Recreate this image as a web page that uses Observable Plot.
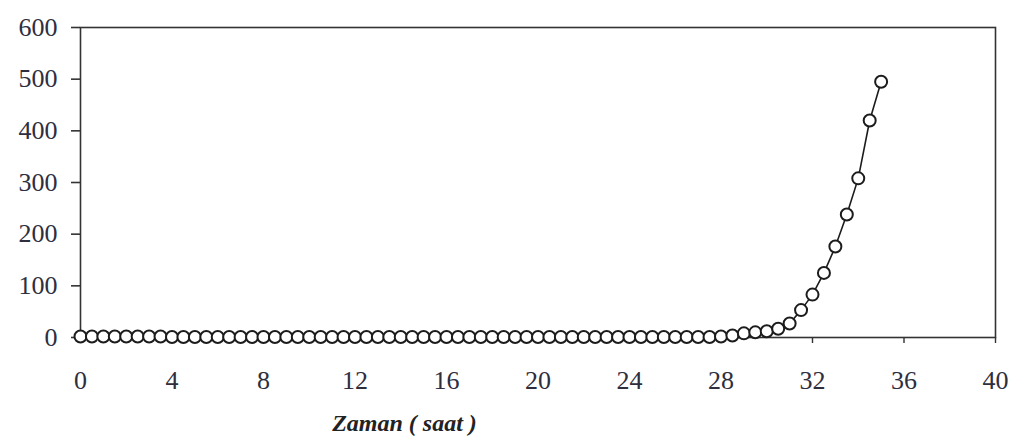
<!DOCTYPE html>
<html>
<head>
<meta charset="utf-8">
<script src="https://cdn.jsdelivr.net/npm/d3@7"></script>
<script src="https://cdn.jsdelivr.net/npm/@observablehq/plot@0.6"></script>
<style>
  html, body { margin: 0; padding: 0; background: #fff; }
  #chart svg { display: block; }
</style>
</head>
<body>
<div id="chart"></div>
<script>
const hours = [0,0.5,1,1.5,2,2.5,3,3.5,4,4.5,5,5.5,6,6.5,7,7.5,8,8.5,9,9.5,
  10,10.5,11,11.5,12,12.5,13,13.5,14,14.5,15,15.5,16,16.5,17,17.5,18,18.5,19,19.5,
  20,20.5,21,21.5,22,22.5,23,23.5,24,24.5,25,25.5,26,26.5,27,27.5,28,28.5,
  29,29.5,30,30.5,31,31.5,32,32.5,33,33.5,34,34.5,35];
const values = [2,2,2,2,2,2,2,2,1,1,1,1,1,1,1,1,1,1,1,1,
  1,1,1,1,1,1,1,1,1,1,1,1,1,1,1,1,1,1,1,1,
  1,1,1,1,1,1,1,1,1,1,1,1,1,1,1,1,2,4,
  8,10,12,17,27,53,83,125,176,238,308,420,495];
const xTicks = [0,4,8,12,16,20,24,28,32,36,40];
const yTicks = [0,100,200,300,400,500,600];
const xTitle = "Zaman ( saat )";

const data = hours.map((h, i) => ({h, v: values[i]}));
const ink = "#1c1c1c";
const labelInk = "#2e2e3e";

const chart = Plot.plot({
  width: 1016,
  height: 442,
  marginLeft: 80,
  marginRight: 21,
  marginTop: 27,
  marginBottom: 105,
  style: {background: "#fff", fontFamily: "'Liberation Serif', 'DejaVu Serif', serif", color: labelInk},
  x: {domain: [0, 40]},
  y: {domain: [0, 600]},
  marks: [
    Plot.frame({stroke: "#333", strokeWidth: 1.6}),
    Plot.axisY({ticks: yTicks, tickSize: 9, tickPadding: 14, fontSize: 26, label: null, stroke: "#333", strokeWidth: 1.6}),
    Plot.axisX({ticks: xTicks, tickSize: 6, tickPadding: 27, fontSize: 26, label: null, stroke: "#333", strokeWidth: 1.4}),
    Plot.line(data, {x: "h", y: "v", stroke: ink, strokeWidth: 1.6}),
    Plot.dot(data, {x: "h", y: "v", r: 6, fill: "#fff", stroke: ink, strokeWidth: 2}),
    Plot.text([xTitle], {frameAnchor: "bottom-left", dx: 324, dy: 93, text: d => d, fontSize: 24, fontWeight: "bold", fontStyle: "italic", fill: "#222", textAnchor: "middle"})
  ]
});
document.getElementById("chart").append(chart);
</script>
</body>
</html>
